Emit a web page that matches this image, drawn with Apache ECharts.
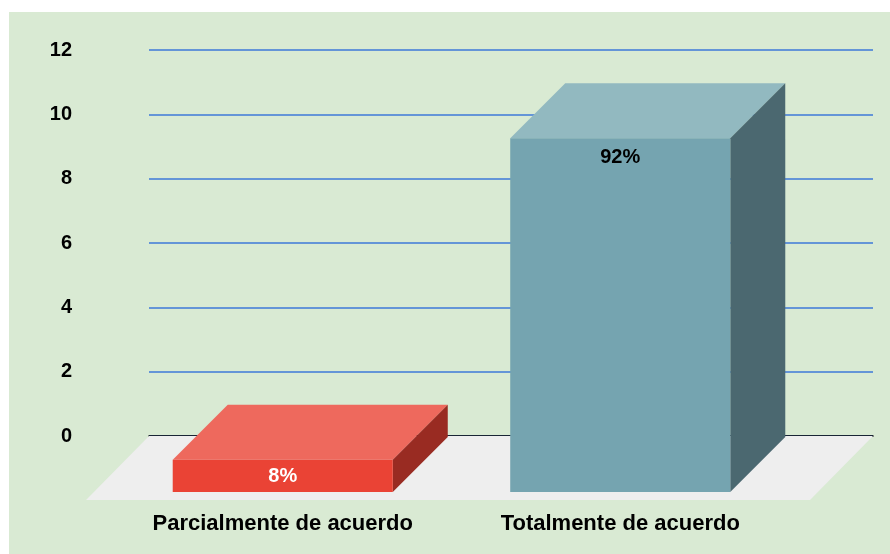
<!DOCTYPE html>
<html>
<head>
<meta charset="utf-8">
<script src="https://cdn.jsdelivr.net/npm/echarts@6/dist/echarts.min.js"></script>
<style>
    html, body { margin: 0; padding: 0; background: #fff; }
    #chart { width: 890px; height: 554px; }
</style>
</head>
<body>
<div id="chart"></div>
<script>
    // data
    var categories = ['Parcialmente de acuerdo', 'Totalmente de acuerdo']
    var values = [1, 11]
    var percentLabels = ['8%', '92%']
    var yTicks = [0, 2, 4, 6, 8, 10, 12]

    // colours per bar: front, top, side, label
    var barColors = [
        { front: '#ea4335', top: '#ee695d', side: '#992b22', label: '#ffffff' },
        { front: '#75a4b0', top: '#92b9c0', side: '#4b6870', label: '#000000' }
    ]
    var depth = 55
    var font = 'Liberation Sans, Arial, sans-serif'

    var chart = echarts.init(document.getElementById('chart'))

    function renderBar(params, api) {
        var idx = api.value(0)
        var val = api.value(1)
        var top = api.coord([idx, val])
        var bot = api.coord([idx, 0])
        var w = api.size([1, 0])[0] * 0.652
        var x0 = top[0] - w / 2, x1 = top[0] + w / 2
        var yT = top[1], yB = bot[1]
        var c = barColors[idx]
        var h = yB - yT
        return {
            type: 'group',
            children: [
                {
                    type: 'polygon',
                    shape: { points: [[x0, yT], [x0 + depth, yT - depth], [x1 + depth, yT - depth], [x1, yT]] },
                    style: { fill: c.top }
                },
                {
                    type: 'polygon',
                    shape: { points: [[x1, yT], [x1 + depth, yT - depth], [x1 + depth, yB - depth], [x1, yB]] },
                    style: { fill: c.side }
                },
                {
                    type: 'rect',
                    shape: { x: x0, y: yT, width: w, height: h },
                    style: { fill: c.front }
                },
                {
                    type: 'text',
                    x: top[0],
                    y: h > 60 ? yT + 19 : yT + h / 2 + 1,
                    style: {
                        text: percentLabels[idx],
                        fill: c.label,
                        font: 'bold 20px ' + font,
                        align: 'center',
                        verticalAlign: 'middle'
                    }
                }
            ]
        }
    }

    function renderFloor(params, api) {
        var cs = params.coordSys
        var yBack = cs.y + cs.height
        var yFront = yBack + 64
        return {
            type: 'polygon',
            shape: {
                points: [[cs.x, yBack], [cs.x + cs.width, yBack],
                    [cs.x + cs.width - 63, yFront], [cs.x - 63, yFront]]
            },
            style: { fill: '#eeeeee' }
        }
    }

    chart.setOption({
        animation: false,
        graphic: [{
            type: 'rect',
            z: -10,
            shape: { x: 9, y: 12, width: 881, height: 542 },
            style: { fill: '#d9ead3' }
        }],
        grid: [
            { left: 149, right: 17, top: 50, bottom: 118 },
            { left: 114, right: 101, top: 106, bottom: 62 }
        ],
        xAxis: [
            {
                gridIndex: 0,
                type: 'category',
                data: categories,
                axisLine: { lineStyle: { color: '#000', width: 1.5 } },
                axisTick: { show: false },
                axisLabel: { show: false }
            },
            {
                gridIndex: 1,
                type: 'category',
                data: categories,
                axisLine: { show: false },
                axisTick: { show: false },
                axisLabel: {
                    interval: 0,
                    hideOverlap: false,
                    margin: 21,
                    color: '#000',
                    fontWeight: 'bold',
                    fontSize: 22,
                    fontFamily: font
                }
            }
        ],
        yAxis: [
            {
                gridIndex: 0,
                type: 'value',
                min: yTicks[0],
                max: yTicks[yTicks.length - 1],
                interval: 2,
                axisLine: { show: false },
                axisTick: { show: false },
                axisLabel: {
                    margin: 77,
                    color: '#000',
                    fontWeight: 'bold',
                    fontSize: 20,
                    fontFamily: font
                },
                splitLine: { lineStyle: { color: '#3c78d8', width: 1.5 } }
            },
            {
                gridIndex: 1,
                type: 'value',
                min: yTicks[0],
                max: yTicks[yTicks.length - 1],
                show: false
            }
        ],
        series: [
            {
                type: 'custom',
                xAxisIndex: 0,
                yAxisIndex: 0,
                z: 1,
                data: [[0]],
                renderItem: renderFloor
            },
            {
                type: 'custom',
                xAxisIndex: 1,
                yAxisIndex: 1,
                z: 3,
                data: values.map(function (v, i) { return [i, v] }),
                renderItem: renderBar
            }
        ]
    })
</script>
</body>
</html>
